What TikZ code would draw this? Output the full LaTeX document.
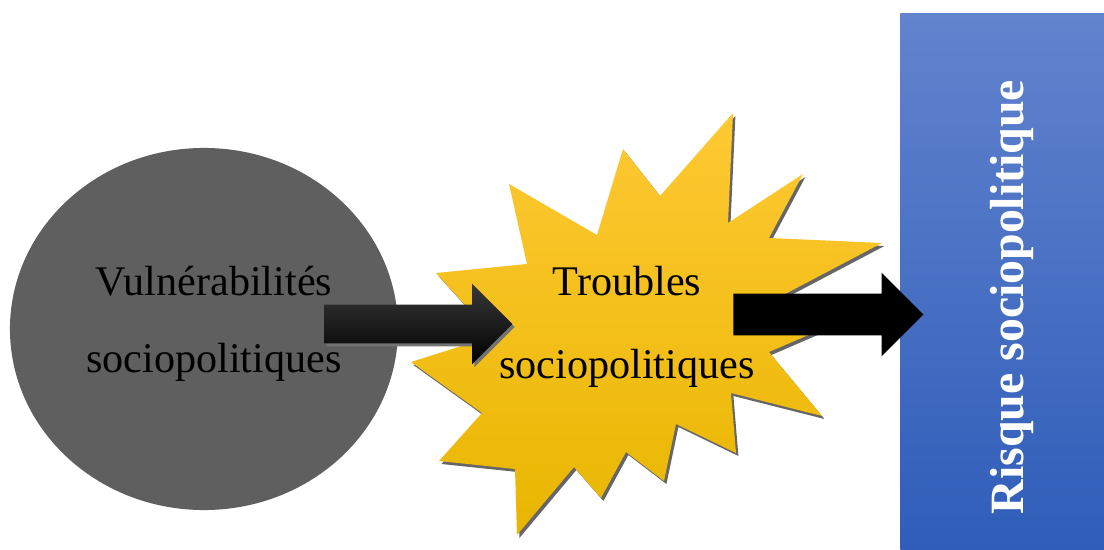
\documentclass[tikz,border=0pt]{standalone}
\usepackage{fontspec}
\setmainfont{Liberation Serif}
\usetikzlibrary{shapes.geometric, shapes.arrows, shadows, positioning}

\definecolor{vulngray}{HTML}{5F5F5F}
\definecolor{bursttop}{RGB}{255,201,52}
\definecolor{burstmid}{RGB}{255,192,0}
\definecolor{burstbot}{RGB}{232,182,0}
\definecolor{risktop}{RGB}{98,131,206}
\definecolor{riskbot}{RGB}{47,93,185}

\begin{document}
\begin{tikzpicture}[
    x=0.025cm, y=-0.025cm,
    % Node styles
    bigtext/.style={
        font=\fontsize{30}{55}\selectfont,
        align=center,
        inner sep=0pt
    },
    vulnbox/.style={
        ellipse,
        fill=vulngray,
        minimum width=9.7cm,
        minimum height=9.05cm,
        inner sep=0pt
    },
    burstfill/.style={
        top color=bursttop,
        middle color=burstmid,
        bottom color=burstbot,
        drop shadow={shadow xshift=0.06cm, shadow yshift=-0.075cm, fill=black!60, opacity=1}
    },
    riskbox/.style={
        rectangle,
        top color=risktop,
        bottom color=riskbot,
        minimum width=5.1cm,
        minimum height=13.425cm,
        inner sep=0pt
    },
    blockarrow/.style={
        single arrow,
        anchor=tail,
        inner xsep=0pt,
        single arrow head extend=0.525cm
    }
]
\useasboundingbox (0,0) rectangle (1104,550);

% === Vulnerabilities (left) ===
\node[vulnbox] (vuln) at (204, 329) {};
\node[bigtext] (vulnlabel) at (214, 324) {Vulnérabilités\\sociopolitiques};

% === Troubles (starburst) ===
\path[burstfill] (733,113) -- (728,223) -- (803,174) -- (769,238) -- (882,243)
    -- (770,302) -- (850,317) -- (769,352) -- (822,416) -- (731,393)
    -- (736,453) -- (676,424) -- (664,481) -- (626,452) -- (601,498)
    -- (574,467) -- (517,535) -- (515,469) -- (439,461) -- (482,413)
    -- (411,362) -- (493,336) -- (436,273) -- (527,264) -- (509,184)
    -- (597,235) -- (623,149) -- (660,196) -- cycle;
\node[bigtext, font=\fontsize{30}{59}\selectfont] (troubles) at (627, 327) {Troubles\\sociopolitiques};

% === Risk (right) ===
\node[riskbox, anchor=north west] (risk) at (900, 13) {};
\node[font=\fontsize{34}{40}\selectfont\bfseries, text=white, rotate=90, inner sep=0pt]
    (risklabel) at (1012, 297) {Risque sociopolitique};

% === Block arrows ===
\node[blockarrow, minimum height=4.7cm, inner ysep=0.475cm,
    top color=black!78, middle color=black, bottom color=black,
    drop shadow={shadow xshift=0.06cm, shadow yshift=-0.075cm, fill=black!55, opacity=1}]
    (vulnarrow) at (324, 324) {};
\node[blockarrow, minimum height=4.75cm, inner ysep=0.5125cm, fill=black]
    (riskarrow) at (733, 314.5) {};

\end{tikzpicture}
\end{document}
